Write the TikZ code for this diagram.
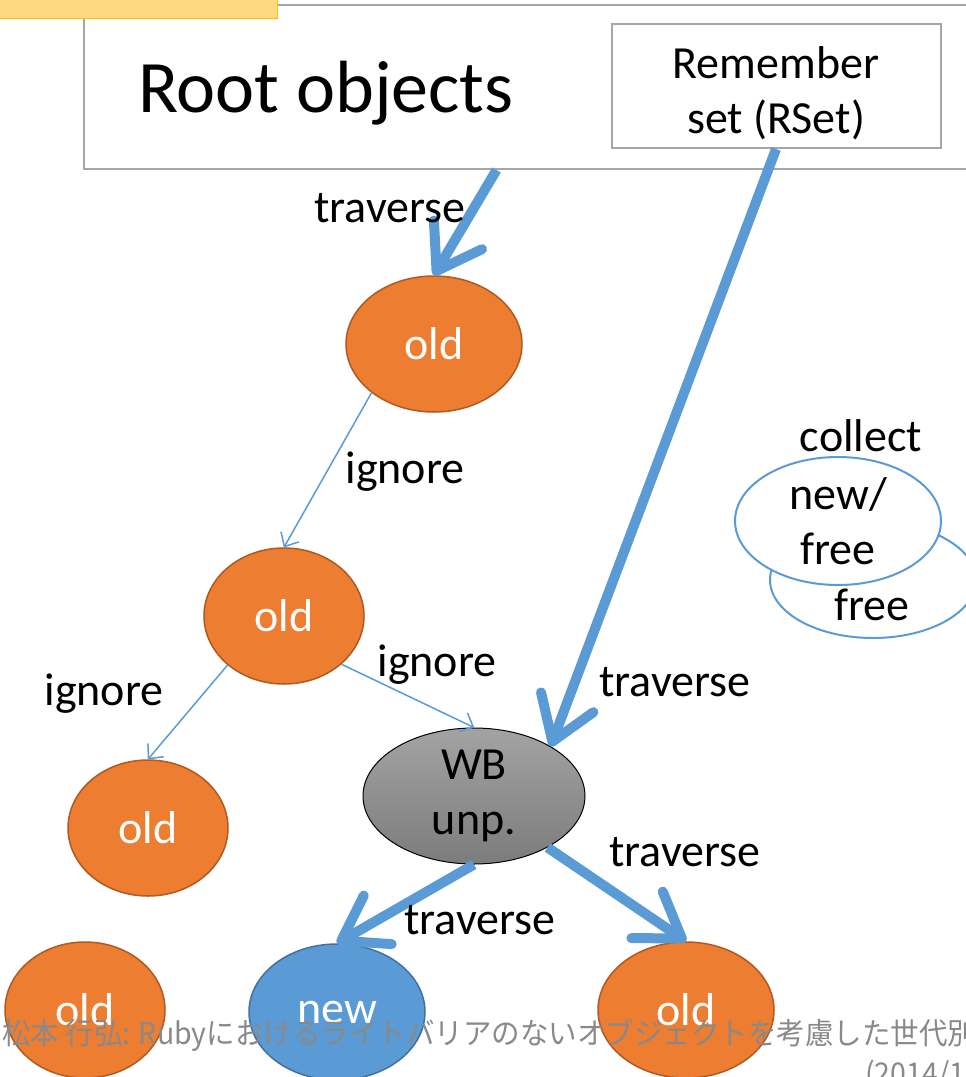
\documentclass[tikz,border=0pt]{standalone}
\usepackage{fontspec}
\setmainfont{Carlito}
\newfontfamily\jpfont[FakeStretch=0.95]{Noto Sans CJK JP}
\usetikzlibrary{shapes.geometric, arrows.meta, positioning}
\definecolor{objorange}{RGB}{237,125,49}
\definecolor{objorangeedge}{RGB}{174,90,33}
\definecolor{objblue}{RGB}{91,155,213}
\definecolor{objblueedge}{RGB}{65,113,156}
\definecolor{linkblue}{RGB}{91,155,213}
\definecolor{boxgray}{RGB}{166,166,166}
\definecolor{tabyellow}{RGB}{255,217,128}
\definecolor{tabyellowedge}{RGB}{255,192,0}
\definecolor{wbtop}{RGB}{163,163,163}
\definecolor{wbbottom}{RGB}{124,124,124}
\definecolor{notegray}{RGB}{137,137,137}
\tikzset{
  label_font/.style = {font=\fontsize{46}{55}\selectfont},
  big_font/.style = {font=\fontsize{74}{84}\selectfont},
  note_font/.style = {font=\jpfont\fontsize{30}{36}\selectfont}
}
\tikzset{
  box/.style = {draw=boxgray, line width=2, fill=white, inner sep=0},
  tab/.style = {draw=tabyellowedge, line width=1.5, fill=tabyellow, inner sep=0},
  obj/.style = {ellipse, label_font, align=center, inner sep=0, line width=1.5},
  old/.style = {obj, fill=objorange, draw=objorangeedge, text=white, minimum width=176, minimum height=136},
  old_small/.style = {old, minimum width=160},
  new/.style = {obj, fill=objblue, draw=objblueedge, text=white, minimum width=176, minimum height=136},
  wb/.style = {obj, draw=black, line width=1, top color=wbtop, bottom color=wbbottom, minimum width=222, minimum height=136},
  freed/.style = {obj, draw=objblue, line width=2, fill=white},
  tag/.style = {label_font, inner sep=0},
  note/.style = {note_font, text=notegray, inner sep=0, anchor=base west}
}
\tikzset{
  trav_arrow/.style = {draw=linkblue, line width=10, -{Straight Barb[length=42pt, width=56pt, round]}},
  ign_arrow/.style = {draw=linkblue, line width=1.5, -{Straight Barb[length=11pt, width=20pt, round]}}
}

\begin{document}
\begin{tikzpicture}[x=1pt, y=-1pt]
    \useasboundingbox (0,0) rectangle (966,1077);
    \clip (0,0) rectangle (966,1077);

    % Roots
    \node[box, anchor=north west, minimum width=917, minimum height=164] at (83,4) (root) {};
    \node[tab, anchor=south east, minimum width=290, minimum height=40] at (278,19) (roottab) {};
    \node[big_font, inner sep=0] at (326,93) (roottext) {Root objects};
    \node[box, minimum width=329, minimum height=124] at (776,86) (rset) {};
    \node[tag, align=center] at (776,93) (rset_text) {
        Remember\\set (RSet)
        };

    % Objects
    \node[old] at (434,344) (old1) {old};
    \node[old_small] at (284,616) (old2) {old};
    \node[old_small] at (148,828) (old3) {old};
    \node[wb] at (474,796) (wb) {WB\\unp.};
    \node[old_small] at (85,1010) (old4) {old};
    \node[new] at (337,1012) (new) {new};
    \node[old] at (686,1010) (old5) {old};

    % Collected
    \node[freed, minimum width=206, minimum height=116] at (873,580) (free_back) {};
    \node[freed, minimum width=206, minimum height=128] at (838,521) (free_front) {new/\\free};
    \node[tag] at (872,605) (free_lbl) {free};
    \node[tag] at (861,436) (collect_lbl) {collect};

    % Arrows
    \draw[trav_arrow] (root.241.5) -- (old1.north);
    \draw[trav_arrow] (rset.south) -- (wb.33);
    \draw[ign_arrow] (old1.218) -- (old2.north);
    \draw[ign_arrow] (old2.221) -- (old3.north);
    \draw[ign_arrow] (old2.320) -- (wb.north);
    \draw[trav_arrow] (wb.south) -- (new.north);
    \draw[trav_arrow] (wb.325) -- (old5.north);

    % Labels
    \node[tag] at (390,208) (trav_1) {traverse};
    \node[tag] at (675,682) (trav_2) {traverse};
    \node[tag] at (685,852) (trav_3) {traverse};
    \node[tag] at (480,920) (trav_4) {traverse};
    \node[tag] at (405,472) (ign_1) {ignore};
    \node[tag] at (437,665) (ign_2) {ignore};
    \node[tag] at (104,694) (ign_3) {ignore};

    % Footer
    \node[note] at (2,1044) (note_1) {松本 行弘: Rubyにおけるライトバリアのないオブジェクトを考慮した世代別};
    \node[note] at (865,1084) (note_2) {(2014/1};
\end{tikzpicture}
\end{document}
